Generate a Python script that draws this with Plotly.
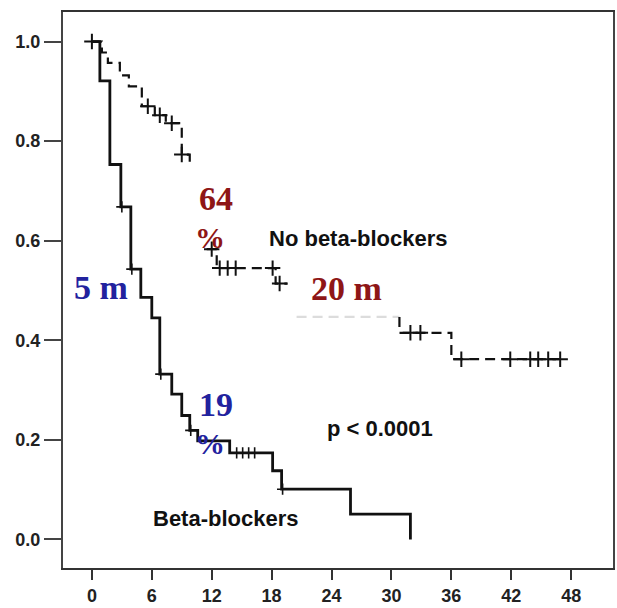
import plotly.graph_objects as go

# ---- data (months, survival probability) ----
bb_t = [0, 0.8, 1.8, 2.9, 3.9, 4.9, 6.0, 6.8, 8.0, 9.0, 9.8, 10.6, 13.8, 18.1, 19.0, 25.9, 31.9]
bb_s = [1.0, 0.921, 0.753, 0.668, 0.543, 0.486, 0.445, 0.332, 0.292, 0.249, 0.219, 0.198, 0.174, 0.138, 0.101, 0.051, 0.0]
bb_cens_t = [3.0, 4.0, 6.9, 9.9, 14.5, 15.1, 15.7, 16.3, 19.1]
bb_cens_s = [0.668, 0.543, 0.332, 0.219, 0.174, 0.174, 0.174, 0.174, 0.101]

nb_early_t = [0, 1.0, 1.6, 2.8, 3.7, 5.0, 6.3, 7.4, 9.0, 9.8, 10.0]
nb_early_s = [1.0, 0.978, 0.957, 0.932, 0.91, 0.87, 0.852, 0.836, 0.773, 0.752, 0.752]
nb_mid_t = [11.5, 12.5, 18.4, 19.6]
nb_mid_s = [0.583, 0.545, 0.514, 0.514]
nb_faint_t = [20.5, 30.8]
nb_faint_s = [0.447, 0.447]
nb_late_t = [30.8, 30.8, 36.0, 47.0]
nb_late_s = [0.447, 0.415, 0.362, 0.362]
nb_cens_t = [0, 5.6, 6.8, 8.0, 9.0, 12.0, 12.8, 13.6, 14.4, 18.1, 18.8, 31.9, 32.9,
             37.0, 41.9, 43.9, 44.7, 45.7, 46.9]
nb_cens_s = [1.0, 0.87, 0.852, 0.836, 0.773, 0.583, 0.545, 0.545, 0.545, 0.545, 0.514,
             0.415, 0.415, 0.362, 0.362, 0.362, 0.362, 0.362, 0.362]

x_ticks = [0, 6, 12, 18, 24, 30, 36, 42, 48]
y_ticks = [0.0, 0.2, 0.4, 0.6, 0.8, 1.0]
y_ticklabels = ["0.0", "0.2", "0.4", "0.6", "0.8", "1.0"]

fig = go.Figure()
dash_style = "10px,6px"
for t, s, col in [(nb_early_t, nb_early_s, "#111"), (nb_mid_t, nb_mid_s, "#111"),
                  (nb_faint_t, nb_faint_s, "#dcdcdc"), (nb_late_t, nb_late_s, "#111")]:
    fig.add_trace(go.Scatter(x=t, y=s, mode="lines", line=dict(shape="hv", color=col, width=2.2, dash=dash_style),
                             showlegend=False, hoverinfo="skip"))
fig.add_trace(go.Scatter(x=bb_t, y=bb_s, mode="lines", line=dict(shape="hv", color="#111", width=2.8),
                         showlegend=False))
fig.add_trace(go.Scatter(x=nb_cens_t, y=nb_cens_s, mode="markers",
                         marker=dict(symbol="cross-thin", size=11, line=dict(width=2, color="#111")),
                         showlegend=False))
fig.add_trace(go.Scatter(x=bb_cens_t, y=bb_cens_s, mode="markers",
                         marker=dict(symbol="cross-thin", size=8, line=dict(width=1.6, color="#111")),
                         showlegend=False))

red = "#8e1616"
blue = "#22229e"
serif = dict(family="Liberation Serif", size=34, weight="bold")
sans = dict(family="Liberation Sans", size=22, color="#111", weight="bold")
ann = [
    dict(x=0.9, y=0.506, text="5 m", font=dict(serif, color=blue)),
    dict(x=12.4, y=0.684, text="64", font=dict(serif, color=red)),
    dict(x=11.8, y=0.607, text="%", font=dict(serif, color=red, size=30)),
    dict(x=25.5, y=0.504, text="20 m", font=dict(serif, color=red)),
    dict(x=12.4, y=0.271, text="19", font=dict(serif, color=blue)),
    dict(x=11.8, y=0.192, text="%", font=dict(serif, color=blue, size=30)),
    dict(x=28.9, y=0.223, text="p < 0.0001", font=sans),
    dict(x=13.4, y=0.043, text="Beta-blockers", font=sans),
    dict(x=17.5, y=0.605, text="No beta-blockers", font=sans, xanchor="left"),
]
for a in ann:
    a.setdefault("xanchor", "center")
    fig.add_annotation(showarrow=False, yanchor="middle", **a)

fig.update_layout(
    width=617, height=608, margin=dict(l=63, r=2, t=12, b=31),
    plot_bgcolor="white", paper_bgcolor="white",
    xaxis=dict(range=[-2.894, 52.19], tickvals=x_ticks, ticks="outside", ticklen=10, tickwidth=2,
               tickcolor="#333", showline=True, linecolor="#333", linewidth=2, mirror=True,
               showgrid=False, zeroline=False,
               tickfont=dict(family="Liberation Sans", size=18, color="#222", weight="bold")),
    yaxis=dict(range=[-0.0573, 1.0593], tickvals=y_ticks, ticktext=y_ticklabels, ticks="outside",
               ticklen=17, tickwidth=2, tickcolor="#444", showline=True, linecolor="#444", linewidth=2,
               mirror=True, showgrid=False, zeroline=False,
               tickfont=dict(family="Liberation Sans", size=18, color="#222", weight="bold")),
)
fig.write_html("out.html")
